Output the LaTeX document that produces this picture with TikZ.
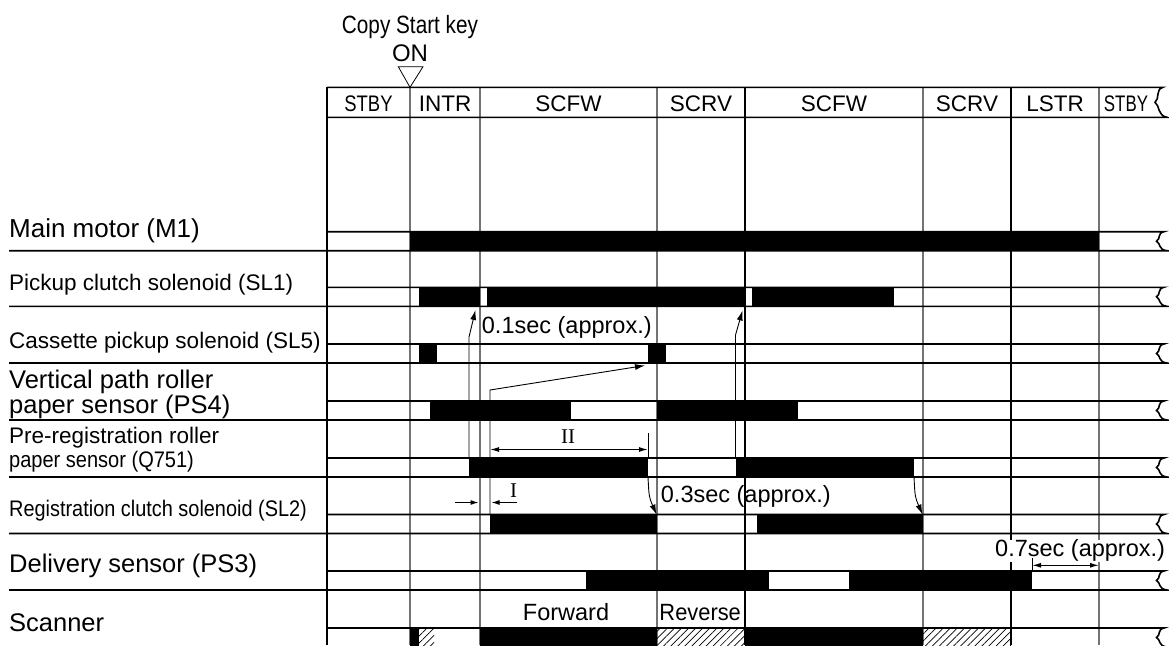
\documentclass[tikz,border=0pt]{standalone}
\usepackage{fontspec}
\setmainfont{Liberation Sans}
\newfontfamily\romfont{Liberation Serif}
\usetikzlibrary{
    arrows.meta,
    patterns.meta
}

\begin{document}
\begin{tikzpicture}[
    x=1pt, y=-1pt,
    rowline/.style={line width=1.6pt},
    phase/.style={line width=1.2pt, black!55},
    phasedark/.style={line width=1.2pt, black},
    bar/.style={fill=black},
    hatch/.style={pattern={Lines[angle=45,distance=5pt,line width=0.7pt]}},
    arr/.style={line width=0.9pt, -{Latex[length=10pt,width=6pt]}},
    arrsmall/.style={line width=1pt, -{Latex[length=8pt,width=5pt]}},
    dim/.style={line width=1.3pt, {Latex[length=9pt,width=5pt]}-{Latex[length=9pt,width=5pt]}},
    sig/.style={anchor=base west, inner sep=0pt, font=\fontsize{25.5}{30}\selectfont},
    sigsmall/.style={anchor=base west, inner sep=0pt, font=\fontsize{22.5}{27}\selectfont},
    phaselbl/.style={anchor=base, inner sep=0pt, font=\fontsize{22.5}{27}\selectfont},
    note/.style={anchor=base west, inner sep=0pt, font=\fontsize{23.5}{28}\selectfont},
    roman/.style={inner sep=0pt, font=\romfont\fontsize{21}{25}\selectfont}
]
\useasboundingbox (0,0) rectangle (1169,645);

% Copy Start key marker
\node[anchor=base, inner sep=0pt, font=\fontsize{25}{30}\selectfont, xscale=0.83] (startkey) at (410,33.3) {Copy Start key};
\node[anchor=base, inner sep=0pt, font=\fontsize{24}{28}\selectfont] (on) at (410,61.7) {ON};
\draw[line width=0.8pt] (398.3,66.7) -- (423,66.7) -- (410,87.3) -- cycle;

% Phase lines
\foreach \x in {410,480,657,923,1099} {
    \draw[phase] (\x,87.3) -- (\x,645);
}
\foreach \x in {745,1011} {
    \draw[phasedark] (\x,87.3) -- (\x,645);
}

% Header
\draw[rowline] (327,87.3) -- (1163,87.3)
    .. controls (1155,89.5) and (1160,99) .. (1155,102.3)
    .. controls (1160,105.6) and (1157,115.3) .. (1167,117.3) -- (327,117.3);
\draw[line width=2pt] (327,87.3) -- (327,645);
\foreach \x/\txt [count=\i] in {445/INTR, 568.5/SCFW, 701/SCRV, 834/SCFW, 967/SCRV, 1055/LSTR} {
    \node[phaselbl] (ph\i) at (\x,111.7) {\txt};
}
\node[phaselbl, xscale=0.82] (stby1) at (368.5,111.7) {STBY};
\node[phaselbl, xscale=0.75] (stby2) at (1126,111.7) {STBY};

% Signal bars
\foreach \a/\b/\t in {410/1099/231.7,
    418.5/480/287.3, 486.5/745/287.3, 752/894/287.3,
    419/436.5/344, 648/666/344,
    430/570.5/401, 657/797.5/401,
    469/648/458, 735.5/914/458,
    490/657/514.5, 757/923/514.5,
    586/769/571, 849/1032/571,
    410/419/628, 480/657/628, 745/923/628} {
    \fill[bar] (\a,\t) rectangle (\b,\t+19);
}
\foreach \a/\b in {419/434, 657/745, 923/1011} {
    \fill[hatch] (\a,628) rectangle (\b,647);
}

% Signal rows
\foreach \t in {231.7, 287.3, 344, 401, 458, 514.5, 571, 628} {
    \draw[rowline] (327,\t) -- (1164,\t)
        .. controls (1157,\t+1.5) and (1161,\t+7) .. (1156.5,\t+9.5)
        .. controls (1161,\t+12) and (1158,\t+18) .. (1167,\t+19) -- (9,\t+19);
}

% Signal names
\node[sig, font=\fontsize{26}{30}\selectfont] (m1) at (9,237.7) {Main motor (M1)};
\node[sigsmall] (sl1) at (9,290.7) {Pickup clutch solenoid (SL1)};
\node[sigsmall] (sl5) at (9,348) {Cassette pickup solenoid (SL5)};
\node[sig] (ps4a) at (9,388.3) {Vertical path roller};
\node[sig] (ps4b) at (9,413.3) {paper sensor (PS4)};
\node[sigsmall] (q751a) at (9,443.3) {Pre-registration roller};
\node[sigsmall, xscale=0.89] (q751b) at (9,467) {paper sensor (Q751)};
\node[sigsmall, xscale=0.885] (sl2) at (9,516) {Registration clutch solenoid (SL2)};
\node[sig] (ps3) at (9,572.7) {Delivery sensor (PS3)};
\node[sig] (scan) at (9,631.7) {Scanner};

% Timing notes
\node[note] (t01) at (481.7,333.3) {0.1sec (approx.)};
\node[note] (t03) at (660.7,502.3) {0.3sec (approx.)};
\node[note, fill=white] (t07) at (995,556.7) {0.7sec (approx.)};
\node[note, anchor=base] (fwd) at (566,620) {Forward};
\node[note, xscale=0.93] (rev) at (659.3,620) {Reverse};
\node[roman] (dimII) at (568,437) {II};
\node[roman] (dimI) at (513.5,491) {I};

% Trigger points
\coordinate (q1s) at (469,458);
\coordinate (q1e) at (648,477);
\coordinate (q2s) at (735.5,458);
\coordinate (q2e) at (914,477);
\coordinate (sl1a) at (475.5,310);
\coordinate (sl1b) at (742.5,310.5);
\coordinate (sl2a) at (490,514.5);
\coordinate (sl2e1) at (656.5,514.5);
\coordinate (sl2e2) at (922.5,514.5);
\coordinate (sl5b) at (645,365.5);
\coordinate (ps3e) at (1032,571);

% Timing arrows
\draw[arr] (q1s) -- (469,337) -- (sl1a);
\draw[arr] (q2s) -- (735.5,335) -- (sl1b);
\draw[arr] (sl2a) -- (490,390) -- (sl5b);
\draw[arr] (q1e) .. controls (649,497) .. (sl2e1);
\draw[arr] (q2e) .. controls (915,497) .. (sl2e2);

% Dimensions
\draw[dim] (490,449.5) -- (648,449.5);
\draw[line width=0.8pt] (648,433) -- (648,458);
\draw[arrsmall] (455,502.5) -- (478.5,502.5);
\draw[arrsmall] (517,502.5) -- (491.5,502.5);
\draw[dim] (1032,565.3) -- (1099,565.3);
\draw[line width=0.8pt] (1032,558) -- (ps3e);
\end{tikzpicture}
\end{document}
